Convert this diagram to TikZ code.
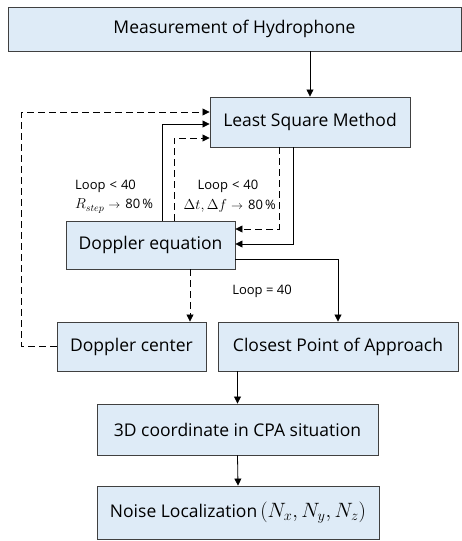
\documentclass[tikz,border=0pt]{standalone}
\usepackage{fontspec}
\setmainfont{Open Sans}
\usetikzlibrary{arrows.meta}
\definecolor{boxfill}{HTML}{DEEBF7}
\definecolor{boxline}{HTML}{404040}
\tikzset{
  box/.style={draw=boxline, fill=boxfill, line width=0.9pt, inner sep=0pt, font=\fontsize{17.5}{20}\selectfont},
  arr/.style={-{Triangle[length=7pt,width=7pt]}, line width=0.8pt},
  dsh/.style={dash pattern=on 7pt off 4pt},
  lbl/.style={font=\fontsize{13}{15}\selectfont, inner sep=0pt},
}
\begin{document}
\begin{tikzpicture}[x=1pt,y=-1pt]
\useasboundingbox (0,0) rectangle (462,541);
\node[box, minimum width=453pt, minimum height=44pt] (top) at (234.5,29) {Measurement of Hydrophone};
\node[box, minimum width=200pt, minimum height=50pt] (lsm) at (310,122) {Least Square Method};
\node[box, minimum width=169pt, minimum height=48pt] (de) at (150.5,245) {Doppler equation};
\node[box, minimum width=149pt, minimum height=49pt] (dc) at (131.5,346.5) {Doppler center};
\node[box, minimum width=240pt, minimum height=49pt] (cpa) at (338,346.5) {Closest Point of Approach};
\node[box, minimum width=281pt, minimum height=51pt] (d3) at (237.5,429.5) {3D coordinate in CPA situation};
\node[box, minimum width=282pt, minimum height=53pt] (nl) at (238,512.5) {Noise Localization\hspace{3pt}{\fontsize{20}{22}\selectfont$(N_x,N_y,N_z)$}};

\draw[arr] (top.south -| lsm.north) -- (lsm.north);
\draw[arr,dsh] (dc.west) -- ++(-35,0) |- ([yshift=10pt]lsm.west);
\draw[arr] ([xshift=11.5pt]de.north) |- ([yshift=-2pt]lsm.west);
\draw[arr,dsh] ([xshift=23.5pt]de.north) |- ([yshift=-16pt]lsm.west);
\draw[arr,dsh] ([xshift=-31pt]lsm.south) |- ([yshift=16pt]de.east);
\draw[arr] ([xshift=-17pt]lsm.south) |- ([yshift=1pt]de.east);
\draw[arr,dsh] ([xshift=39.5pt]de.south) -- ([xshift=39.5pt]de.south |- dc.north);
\draw[arr] ([yshift=-14pt]de.east) -| (cpa.north);
\draw[arr] (cpa.south -| d3.north) -- (d3.north);
\draw[arr] (d3.south) -- (nl.north);

\node[lbl, anchor=west] (l1a) at (75,186) {Loop\hspace{4pt}<\hspace{4pt}40};
\node[lbl, anchor=west] (l1b) at (75,206) {{\fontsize{14}{16}\selectfont$R_{step}$}\hspace{4pt}$\rightarrow$\hspace{5pt}80\,\%};
\node[lbl] (l2a) at (228,186) {Loop\hspace{4pt}<\hspace{4pt}40};
\node[lbl, anchor=east] (l2b) at (276,206) {{\fontsize{14}{16}\selectfont$\Delta t,\Delta f$}\hspace{4pt}$\rightarrow$\hspace{5pt}80\,\%};
\node[lbl] (l3) at (262,291) {Loop = 40};
\end{tikzpicture}
\end{document}
